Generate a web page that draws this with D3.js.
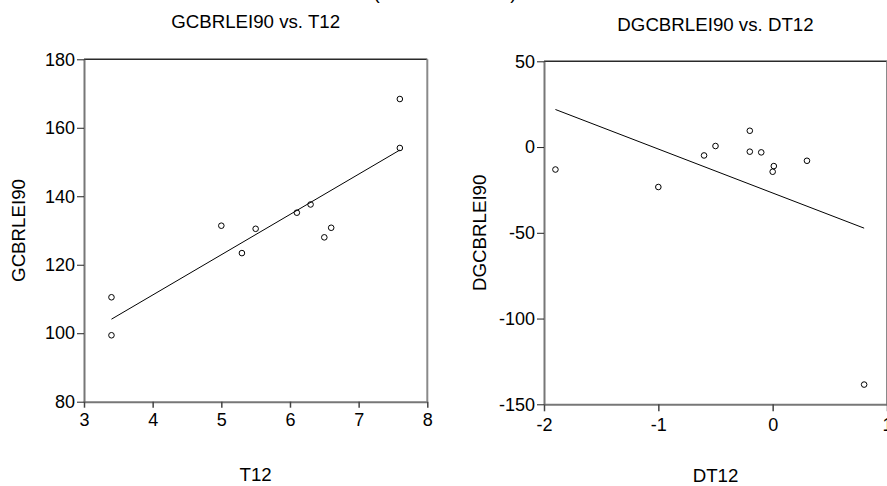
<!DOCTYPE html>
<html>
<head>
<meta charset="utf-8">
<script src="https://cdn.jsdelivr.net/npm/d3@7/dist/d3.min.js"></script>
<style>
  html, body { margin: 0; padding: 0; background: #fff; }
  svg { display: block; }
  text { font-family: "Liberation Sans", Arial, sans-serif; fill: #000; }
</style>
</head>
<body>
<svg id="chart" width="887" height="486"></svg>
<script>
// Levels: GCBRLEI90 against T12
const t12 = [3.4, 3.4, 5.0, 5.3, 5.5, 6.1, 6.3, 6.5, 6.6, 7.6, 7.6];
const gcbrlei90 = [110.5, 99.4, 131.4, 123.4, 130.5, 135.2, 137.6, 128.0, 130.8, 168.4, 154.1];
// Fitted regression line endpoints (levels)
const levelFitX = [3.4, 7.6];
const levelFitY = [104.1, 153.5];

// First differences: DGCBRLEI90 against DT12
const dt12 = [-1.9, -1.0, -0.6, -0.5, -0.2, -0.2, -0.1, 0.01, 0.0, 0.3, 0.8];
const dgcbrlei90 = [-13.1, -23.3, -4.9, 0.6, 9.5, -2.7, -3.1, -11.1, -14.4, -8.0, -138.5];
// Fitted regression line endpoints (differences)
const diffFitX = [-1.9, 0.8];
const diffFitY = [21.9, -47.3];

// Tick values
const levelXTicks = [3, 4, 5, 6, 7, 8];
const levelYTicks = [80, 100, 120, 140, 160, 180];
const diffXTicks = [-2, -1, 0, 1];
const diffYTicks = [-150, -100, -50, 0, 50];

// plain hyphen for negatives
const plain = d => String(d);

const svg = d3.select("#chart");

// Main heading, mostly above the top edge
svg.append("text")
  .attr("x", 445).attr("y", -1)
  .attr("text-anchor", "middle")
  .style("font-size", "18.7px")
  .text("(11 observations)");

function panel(cfg) {
  const g = svg.append("g");
  const x = d3.scaleLinear().domain(cfg.xDomain).range([cfg.left, cfg.right]);
  const y = d3.scaleLinear().domain(cfg.yDomain).range([cfg.bottom, cfg.top]);

  // frame: top and right borders
  g.append("line")
    .attr("x1", cfg.left).attr("x2", cfg.right)
    .attr("y1", cfg.top).attr("y2", cfg.top)
    .attr("stroke", "#2a2a2a").attr("stroke-width", 1.5);
  g.append("line")
    .attr("x1", cfg.right).attr("x2", cfg.right)
    .attr("y1", cfg.top).attr("y2", cfg.bottom)
    .attr("stroke", "#8a8a8a").attr("stroke-width", 2);

  // axes
  const yAxis = g.append("g")
    .attr("transform", `translate(${cfg.left},0)`)
    .call(d3.axisLeft(y).tickValues(cfg.yTicks).tickSize(7).tickSizeOuter(0).tickPadding(2)
      .tickFormat(plain));
  const xAxis = g.append("g")
    .attr("transform", `translate(0,${cfg.bottom})`)
    .call(d3.axisBottom(x).tickValues(cfg.xTicks).tickSize(cfg.xTickSize).tickSizeOuter(0)
      .tickPadding(cfg.xTickPad).tickFormat(plain));

  [yAxis, xAxis].forEach(a => {
    a.select(".domain").attr("stroke", "#777").attr("stroke-width", 2);
    a.selectAll(".tick line").attr("stroke", "#222").attr("stroke-width", 1);
    a.selectAll(".tick text")
      .style("font-size", "18px")
      .style("font-family", "'Liberation Sans', Arial, sans-serif")
      .attr("fill", "#000");
  });
  xAxis.selectAll(".tick line").attr("stroke", "#444").attr("stroke-width", 1.5);

  // fitted line
  const fit = d3.zip(cfg.fitX, cfg.fitY);
  g.append("path")
    .attr("d", d3.line().x(d => x(d[0])).y(d => y(d[1]))(fit))
    .attr("fill", "none").attr("stroke", "#000").attr("stroke-width", 1);

  // observations
  g.selectAll("circle.obs")
    .data(d3.zip(cfg.xs, cfg.ys))
    .join("circle")
    .attr("class", "obs")
    .attr("cx", d => x(d[0])).attr("cy", d => y(d[1]))
    .attr("r", 2.8)
    .attr("fill", "none").attr("stroke", "#000").attr("stroke-width", 1);

  // titles and axis labels
  const cx = (cfg.left + cfg.right) / 2;
  g.append("text")
    .attr("x", cx).attr("y", cfg.titleY)
    .attr("text-anchor", "middle")
    .style("font-size", "18.7px")
    .text(cfg.title);
  g.append("text")
    .attr("x", cx).attr("y", cfg.xLabelY)
    .attr("text-anchor", "middle")
    .style("font-size", "18.7px")
    .text(cfg.xLabel);
  g.append("text")
    .attr("transform", `translate(${cfg.yLabelX},${(cfg.top + cfg.bottom) / 2}) rotate(-90)`)
    .attr("text-anchor", "middle")
    .style("font-size", "18.7px")
    .text(cfg.yLabel);
}

panel({
  left: 84, right: 427.3, top: 59.3, bottom: 401.7,
  xDomain: [3, 8], yDomain: [80, 180],
  xTicks: levelXTicks, yTicks: levelYTicks,
  xTickSize: 6, xTickPad: 5.6,
  xs: t12, ys: gcbrlei90, fitX: levelFitX, fitY: levelFitY,
  title: "GCBRLEI90 vs. T12", titleY: 27.5,
  xLabel: "T12", xLabelY: 480.5,
  yLabel: "GCBRLEI90", yLabelX: 25
});

panel({
  left: 544, right: 887, top: 61.3, bottom: 404.3,
  xDomain: [-2, 1], yDomain: [-150, 50],
  xTicks: diffXTicks, yTicks: diffYTicks,
  xTickSize: 7, xTickPad: 7,
  xs: dt12, ys: dgcbrlei90, fitX: diffFitX, fitY: diffFitY,
  title: "DGCBRLEI90 vs. DT12", titleY: 30.7,
  xLabel: "DT12", xLabelY: 482,
  yLabel: "DGCBRLEI90", yLabelX: 485.7
});
</script>
</body>
</html>
